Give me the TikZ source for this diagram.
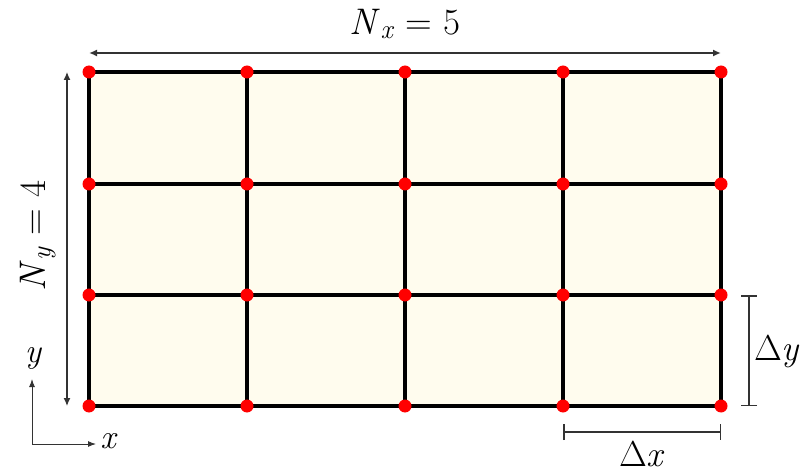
\RequirePackage{fix-cm}
\documentclass[tikz,border=0pt]{standalone}
\usetikzlibrary{arrows.meta}
\definecolor{CellFill}{HTML}{FFFCEE}
\definecolor{DimGray}{HTML}{333333}
\tikzset{
  gridpt/.style={circle, fill=red, inner sep=0pt, minimum size=13pt},
  gridline/.style={line width=3.2pt, draw=black},
  dimarrow/.style={
    {Latex[length=8pt,width=7pt]}-{Latex[length=8pt,width=7pt]},
    line width=1.8pt,
    draw=DimGray
  },
  axisarrow/.style={-{Latex[length=8pt,width=6pt]}, line width=1pt, draw=DimGray},
  bracketline/.style={{Bar[width=16pt]}-{Bar[width=16pt]}, line width=1.5pt, draw=DimGray},
  biglabel/.style={font=\fontsize{37}{40}\selectfont, inner sep=0pt},
  dimlabel/.style={font=\fontsize{36}{40}\selectfont, inner sep=0pt},
  axislabel/.style={font=\fontsize{34}{38}\selectfont\itshape, inner sep=0pt}
}
\newcommand{\subv}[1]{\raisebox{-0.3ex}{\fontsize{27}{30}\selectfont\textit{#1}}}

\begin{document}
\begin{tikzpicture}[x=1pt, y=1pt]
\useasboundingbox (0,0) rectangle (801,472);
% grid points
\foreach \i/\px in {0/89, 1/247, 2/405, 3/563, 4/721}
  \foreach \j/\py in {0/66, 1/177, 2/288, 3/400}
    \coordinate (p-\i-\j) at (\px,\py);
\fill[CellFill] (p-0-0) rectangle (p-4-3);
% grid lines
\foreach \i in {0,...,4}
  \draw[gridline] (p-\i-0) -- (p-\i-3);
\foreach \j in {0,...,3}
  \draw[gridline] (p-0-\j) -- (p-4-\j);
\foreach \i in {0,...,4}
  \foreach \j in {0,...,3}
    \node[gridpt] (n-\i-\j) at (p-\i-\j) {};
% counts
\coordinate (nxa) at (89,419);
\coordinate (nxb) at (721,419);
\draw[dimarrow] (nxa) -- (nxb);
\node[biglabel] (nxlabel) at (405,448) {\textit{N}\subv{x} = 5};
\coordinate (nya) at (67,400);
\coordinate (nyb) at (67,66);
\draw[dimarrow, line width=1.2pt] (nya) -- (nyb);
\node[biglabel, rotate=90] (nylabel) at (38,236) {\textit{N}\subv{y} = 4};
% spacings
\coordinate (dya) at (749,177);
\coordinate (dyb) at (749,66);
\draw[bracketline] (dya) -- (dyb);
\node[dimlabel] (dylabel) at (777,120) {$\Delta$\textit{y}};
\coordinate (dxa) at (563,40);
\coordinate (dxb) at (721,40);
\draw[bracketline] (dxa) -- (dxb);
\node[dimlabel] (dxlabel) at (642,18) {$\Delta$\textit{x}};
% axes
\coordinate (orig) at (32,28);
\coordinate (yend) at (32,93);
\coordinate (xend) at (96,28);
\draw[axisarrow] (orig) -- (yend);
\draw[axisarrow] (orig) -- (xend);
\node[axislabel] (ylabel) at (33,114) {y};
\node[axislabel] (xlabel) at (108,31) {x};
\end{tikzpicture}
\end{document}
